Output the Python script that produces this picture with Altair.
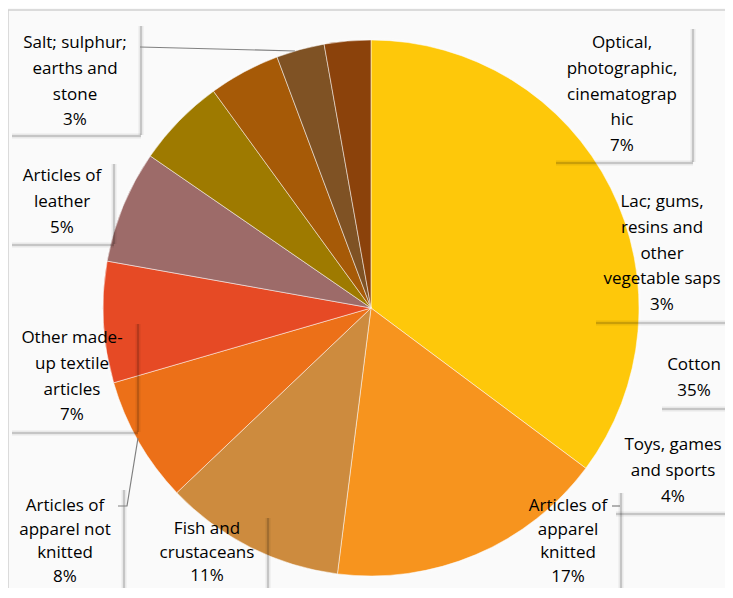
import altair as alt
import pandas as pd

# ---- data ----
categories = [
    "Cotton", "Articles of apparel knitted", "Fish and crustaceans",
    "Articles of apparel not knitted", "Other made-up textile articles",
    "Optical, photographic, cinematographic", "Articles of leather",
    "Toys, games and sports", "Salt; sulphur; earths and stone",
    "Lac; gums, resins and other vegetable saps",
]
values = [35.2, 16.8, 10.9, 7.6, 7.3, 6.8, 5.4, 4.3, 2.9, 2.8]
colors = ["#FEC80A", "#F7941E", "#CD8B3E", "#EC7018", "#E64A25",
          "#9D6B69", "#9E7A00", "#A65A07", "#7F5224", "#8B420B"]
label_lines = [
    ["Cotton"],
    ["Articles of", "apparel", "knitted"],
    ["Fish and", "crustaceans"],
    ["Articles of", "apparel not", "knitted"],
    ["Other made-", "up textile", "articles"],
    ["Optical,", "photographic,", "cinematograp", "hic"],
    ["Articles of", "leather"],
    ["Toys, games", "and sports"],
    ["Salt; sulphur;", "earths and", "stone"],
    ["Lac; gums,", "resins and", "other", "vegetable saps"],
]

# ---- layout (page pixel space): centre x and first-line y of each label ----
label_x = [694, 568, 207, 65, 72, 622, 62, 673, 75, 662]
label_y = [365, 506, 529, 506, 338, 43, 176, 445, 43, 202]
bottom_row = [False, True, True, True, False, False, False, False, False, False]
box_x1 = [658, 513, 147, 8, 8, 552, 8, 612, 8, 592]
box_x2 = [733, 620, 267, 123, 137, 692, 113, 733, 140, 733]
box_y1 = [348, 489, 514, 486, 320, 25, 160, 425, 22, 185]
box_y2 = [408, 604, 604, 604, 432, 162, 244, 513, 135, 322]

W, H = 717, 580
xs = alt.Scale(domain=[8, 8 + W], range=[0, W])
ys = alt.Scale(domain=[8, 8 + H], range=[0, H])
CX, CY, R = 371 - 8, 308 - 8, 268

pie_df = pd.DataFrame({"cat": categories, "val": values, "idx": list(range(len(values)))})

lab_df = pd.DataFrame({
    "text": [lines + [f"{round(v)}%"] for lines, v in zip(label_lines, values)],
    "x": label_x, "y": label_y, "bottom": bottom_row,
})

shadow_rows = []
for a, b, c, d in zip(box_x1, box_x2, box_y1, box_y2):
    shadow_rows.append({"x": b + 1, "x2": b + 1, "y": c + 4, "y2": d})
    shadow_rows.append({"x": a + 4, "x2": b + 1, "y": d + 1, "y2": d + 1})
shadow_df = pd.DataFrame(shadow_rows)

leader_df = pd.DataFrame({
    "g": ["salt", "salt", "nk", "nk", "nk", "kn", "kn"],
    "o": [0, 1, 0, 1, 2, 0, 1],
    "x": [140, 295, 118, 127, 138, 612, 620],
    "y": [47, 51, 506, 506, 438, 506, 506],
})

glow_df = pd.DataFrame({"r": [270, 273, 276, 279, 282]})

glow = alt.Chart(glow_df).mark_arc(color="#000000", opacity=0.02).encode(
    radius=alt.Radius("r:Q", scale=None),
    theta=alt.value(0), theta2=alt.value(6.2832),
    x=alt.value(CX), y=alt.value(CY),
)

pie = alt.Chart(pie_df).mark_arc(radius=R, stroke="#ffffff", strokeWidth=0.5).encode(
    theta=alt.Theta("val:Q", stack=True),
    order=alt.Order("idx:Q"),
    color=alt.Color("cat:N", scale=alt.Scale(domain=categories, range=colors), legend=None),
    x=alt.value(CX), y=alt.value(CY),
)

shadow_wide = alt.Chart(shadow_df).mark_rule(color="#000000", strokeWidth=5, opacity=0.07).encode(
    x=alt.X("x:Q", scale=xs, axis=None), x2="x2:Q",
    y=alt.Y("y:Q", scale=ys, axis=None), y2="y2:Q",
)
shadow_thin = alt.Chart(shadow_df).mark_rule(color="#000000", strokeWidth=2, opacity=0.15).encode(
    x=alt.X("x:Q", scale=xs, axis=None), x2="x2:Q",
    y=alt.Y("y:Q", scale=ys, axis=None), y2="y2:Q",
)

leaders = alt.Chart(leader_df).mark_line(color="#808080", strokeWidth=1.2).encode(
    x=alt.X("x:Q", scale=xs, axis=None),
    y=alt.Y("y:Q", scale=ys, axis=None),
    detail="g:N", order="o:Q",
)

labels_top = alt.Chart(lab_df).transform_filter("!datum.bottom").mark_text(
    font="Open Sans", fontSize=17, lineHeight=25.8, color="#000000",
    align="center", baseline="middle",
).encode(
    x=alt.X("x:Q", scale=xs, axis=None),
    y=alt.Y("y:Q", scale=ys, axis=None),
    text="text",
)
labels_bottom = alt.Chart(lab_df).transform_filter("datum.bottom").mark_text(
    font="Open Sans", fontSize=17, lineHeight=23.5, color="#000000",
    align="center", baseline="middle",
).encode(
    x=alt.X("x:Q", scale=xs, axis=None),
    y=alt.Y("y:Q", scale=ys, axis=None),
    text="text",
)

frame_df = pd.DataFrame({"x": [8, 8], "x2": [733, 8], "y": [10, 10], "y2": [10, 598]})
frame = alt.Chart(frame_df).mark_rule(color="#d0d0d0", strokeWidth=1.5).encode(
    x=alt.X("x:Q", scale=xs, axis=None), x2="x2:Q",
    y=alt.Y("y:Q", scale=ys, axis=None), y2="y2:Q",
)

chart = alt.layer(glow, pie, shadow_wide, shadow_thin, leaders, frame,
                  labels_top, labels_bottom).properties(
    width=W, height=H,
    autosize=alt.AutoSizeParams(type="none"),
    padding={"left": 0, "top": 0, "right": 0, "bottom": 0},
    background="#ffffff",
).configure_view(stroke=None)

chart.save("out.html", embed_options={"renderer": "svg", "actions": False})
